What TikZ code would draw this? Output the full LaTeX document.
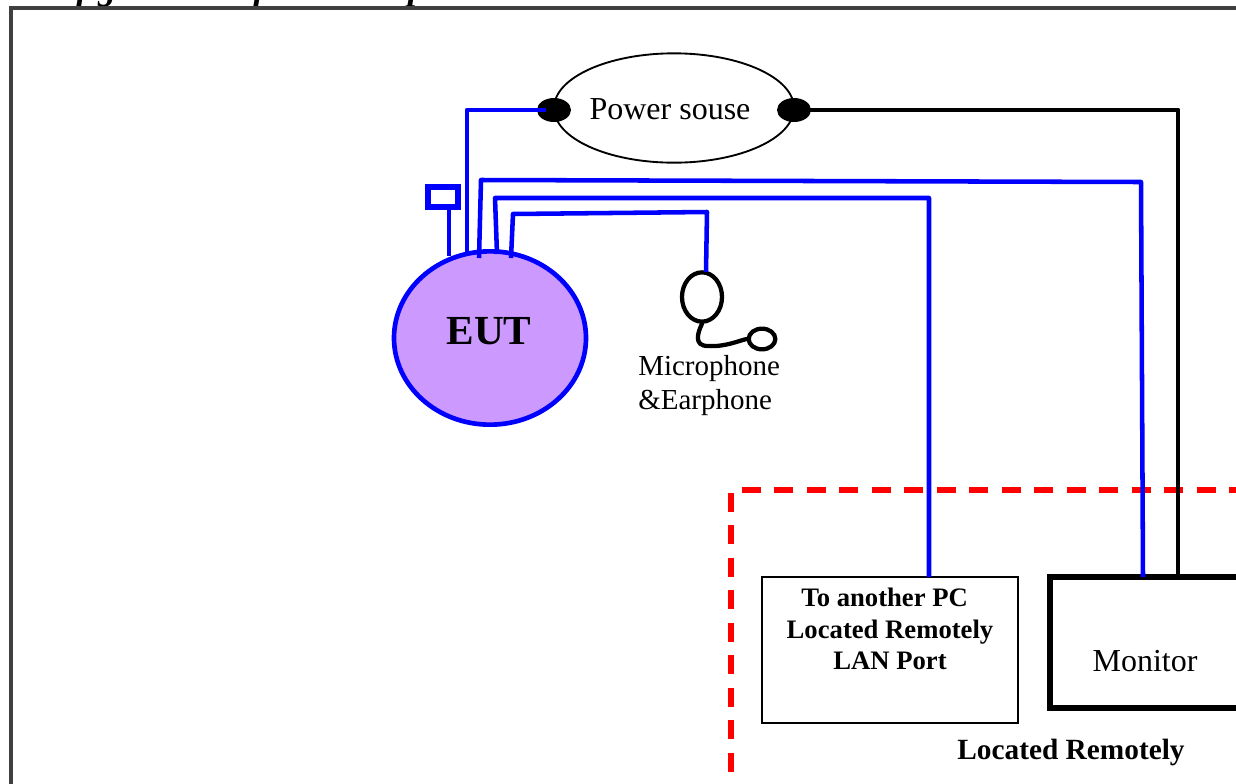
\documentclass[tikz,border=0pt]{standalone}
\usepackage{fontspec}
\setmainfont{Liberation Serif}
\usetikzlibrary{shapes.geometric}
\definecolor{eutfill}{HTML}{CC99FF}
\definecolor{framegray}{HTML}{404040}
\tikzset{
  wire/.style={draw=blue,line width=3.4pt,line join=round},
  blackwire/.style={draw=black,line width=3.7pt,line join=round},
  thinbox/.style={draw=black,line width=1.5pt,minimum width=192pt,minimum height=109.5pt,inner sep=0pt},
  monbox/.style={draw=black,line width=3.9pt,minimum width=160.5pt,minimum height=98.25pt,inner sep=0pt},
  terminal/.style={ellipse,fill=black,minimum width=25.5pt,minimum height=18pt,inner sep=0pt},
  lbl/.style={inner sep=0pt,align=center,text=black},
  remote/.style={draw=red,line width=3.8pt,dash pattern=on 14.25pt off 10.1pt},
  cord/.style={draw=black,line width=3.2pt,line cap=round}
}
\begin{document}
\begin{tikzpicture}[x=0.75pt,y=-0.75pt]
\useasboundingbox (0,0) rectangle (1236,783);
\clip (0,0) rectangle (1236,783);
\fill[white] (0,0) rectangle (1236,783);
% page frame and cropped caption
\node[lbl,anchor=base west] (caption) at (14,-1) {\fontsize{27}{30}\selectfont\bfseries\itshape Configuration of Test Setup};
\coordinate (fa) at (11,800); \coordinate (fb) at (11,8); \coordinate (fc) at (1250,8);
\draw[draw=framegray,line width=2.3pt] (fa) -- (fb) -- (fc);
% remote region
\coordinate (ra) at (1250,490); \coordinate (rb) at (742,490);
\coordinate (rc) at (731,493); \coordinate (rd) at (731,790);
\draw[remote] (rb) -- (ra);
\draw[remote] (rc) -- (rd);
% power source
\node[ellipse,draw=black,line width=1.4pt,minimum width=180pt,minimum height=82pt,inner sep=0pt] (power) at (674,108) {};
\node[lbl] (powerlabel) at (670,109) {\fontsize{24}{28}\selectfont Power souse};
\node[terminal] (tl) at (554,110) {};
\node[terminal] (tr) at (794,110) {};
% boxes
\node[thinbox,fill=white] (lan) at (890,650) {};
\node[lbl,anchor=north,font=\fontsize{20}{23.6}\selectfont\bfseries] (lanlabel) at (890,588) {To another PC\hspace*{8pt}\\Located Remotely\\LAN Port};
\node[monbox,fill=white] (mon) at (1157,642.5) {};
\node[lbl] (monlabel) at (1145,661) {\fontsize{24}{28}\selectfont Monitor};
\node[lbl] (remlabel) at (1071,752) {\fontsize{22}{26}\selectfont\bfseries Located Remotely};
% EUT
\node[ellipse,draw=blue,fill=eutfill,line width=3.5pt,minimum width=144pt,minimum height=130pt,inner sep=0pt] (eut) at (490,338) {};
\node[lbl] (eutlabel) at (489,331) {\fontsize{31}{36}\selectfont\bfseries EUT};
% antenna
\node[draw=blue,line width=4.6pt,minimum width=22.5pt,minimum height=15pt,inner sep=0pt] (ant) at (443,197) {};
\coordinate (e0) at (449,256);
\coordinate (a0) at (449,208);
\draw[wire] (a0) -- (e0);
% EUT cables
\coordinate (e1) at (467,253); \coordinate (w1) at (467,110); \coordinate (t1) at (546,110);
\draw[wire] (e1) -- (w1) -- (t1);
\coordinate (e2) at (479,258); \coordinate (w2a) at (481,180); \coordinate (w2b) at (1141,182); \coordinate (m2) at (1143,577);
\draw[wire] (e2) -- (w2a) -- (w2b) -- (m2);
\coordinate (e3) at (497,254); \coordinate (w3a) at (495,198); \coordinate (w3b) at (929,198); \coordinate (l3) at (929,577);
\draw[wire] (e3) -- (w3a) -- (w3b) -- (l3);
\coordinate (e4) at (511,258); \coordinate (w4a) at (513,214); \coordinate (w4b) at (707,212); \coordinate (m4) at (706,272);
\node[ellipse,draw=black,line width=3.2pt,minimum width=30pt,minimum height=37pt,inner sep=0pt] (mic) at (702,297) {};
\node[ellipse,draw=black,line width=3.2pt,minimum width=20pt,minimum height=15.5pt,inner sep=0pt] (ear) at (762,339) {};
\draw[wire] (e4) -- (w4a) -- (w4b) -- (m4);
% black power lead
\coordinate (w5) at (1178,110); \coordinate (m5) at (1178,577);
\draw[blackwire] (tr.center) -- (w5) -- (m5);
% earphone cord
\draw[cord] (mic.south) .. controls (698,332) and (693,346) .. (708,346) .. controls (725,347) and (738,341) .. (ear.west);
\node[lbl,anchor=west] (miclabel1) at (638,369) {\fontsize{21.75}{26}\selectfont Microphone};
\node[lbl,anchor=west] (miclabel2) at (638,403) {\fontsize{21.75}{26}\selectfont\&Earphone};
\end{tikzpicture}
\end{document}
